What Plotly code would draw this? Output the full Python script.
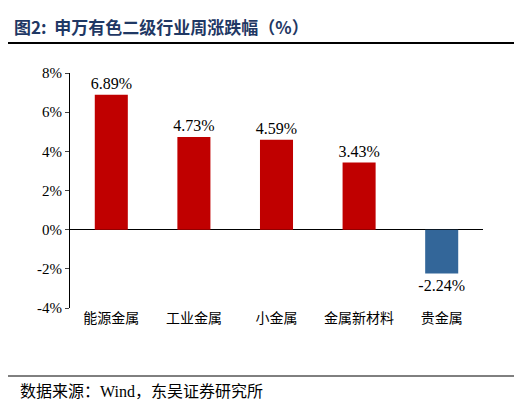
import plotly.graph_objects as go

categories = ["能源金属", "工业金属", "小金属", "金属新材料", "贵金属"]
values = [6.89, 4.73, 4.59, 3.43, -2.24]
labels = ["6.89%", "4.73%", "4.59%", "3.43%", "-2.24%"]
tick_vals = [-4, -2, 0, 2, 4, 6, 8]
tick_text = ["-4%", "-2%", "0%", "2%", "4%", "6%", "8%"]

colors = ["#C00000" if v >= 0 else "#336699" for v in values]
font = "Liberation Serif, Noto Sans CJK SC, serif"

fig = go.Figure(go.Bar(
    x=categories, y=values, marker_color=colors, marker_line_width=0,
    text=labels, textposition="outside", cliponaxis=False, constraintext="none",
    textfont=dict(size=16, color="black", family=font), width=0.4,
))
W, H = 522, 402
l, r, t, b = 62, 47, 65, 102
fig.update_layout(
    width=W, height=H, margin=dict(l=l, r=r, t=t, b=b),
    paper_bgcolor="white", plot_bgcolor="white", showlegend=False,
    font=dict(family=font, color="black", size=14),
    xaxis=dict(showline=False, ticks="", tickfont=dict(size=14, family="Noto Sans CJK SC")),
    yaxis=dict(range=[-4, 8], tickvals=tick_vals, ticktext=tick_text, showgrid=False,
               zeroline=True, zerolinecolor="black", zerolinewidth=1,
               showline=True, linecolor="black", ticks="outside", ticklen=4,
               tickfont=dict(size=15, family=font)),
    shapes=[
        dict(type="line", xref="paper", yref="paper", x0=-l/(W-l-r), x1=1+(r-6)/(W-l-r),
             y0=1+(t-35)/(H-t-b), y1=1+(t-35)/(H-t-b), line=dict(color="black", width=2)),
        dict(type="line", xref="paper", yref="paper", x0=-l/(W-l-r), x1=1+(r-6)/(W-l-r),
             y0=-(368-(H-b))/(H-t-b), y1=-(368-(H-b))/(H-t-b), line=dict(color="black", width=1)),
    ],
    annotations=[
        dict(text="<b>图2:  申万有色二级行业周涨跌幅（%）</b>", xref="paper", yref="paper",
             x=-l/(W-l-r)+4/(W-l-r), y=1+(t-4)/(H-t-b), xanchor="left", yanchor="top", showarrow=False,
             font=dict(size=17, color="#1F3864", family="Noto Sans CJK SC")),
        dict(text="数据来源：Wind，东吴证券研究所", xref="paper", yref="paper",
             x=-l/(W-l-r)+10/(W-l-r), y=-(373-(H-b))/(H-t-b), xanchor="left", yanchor="top", showarrow=False,
             font=dict(size=16, color="black", family="Liberation Serif, Noto Sans CJK SC")),
    ],
)
fig.write_html("out.html")
